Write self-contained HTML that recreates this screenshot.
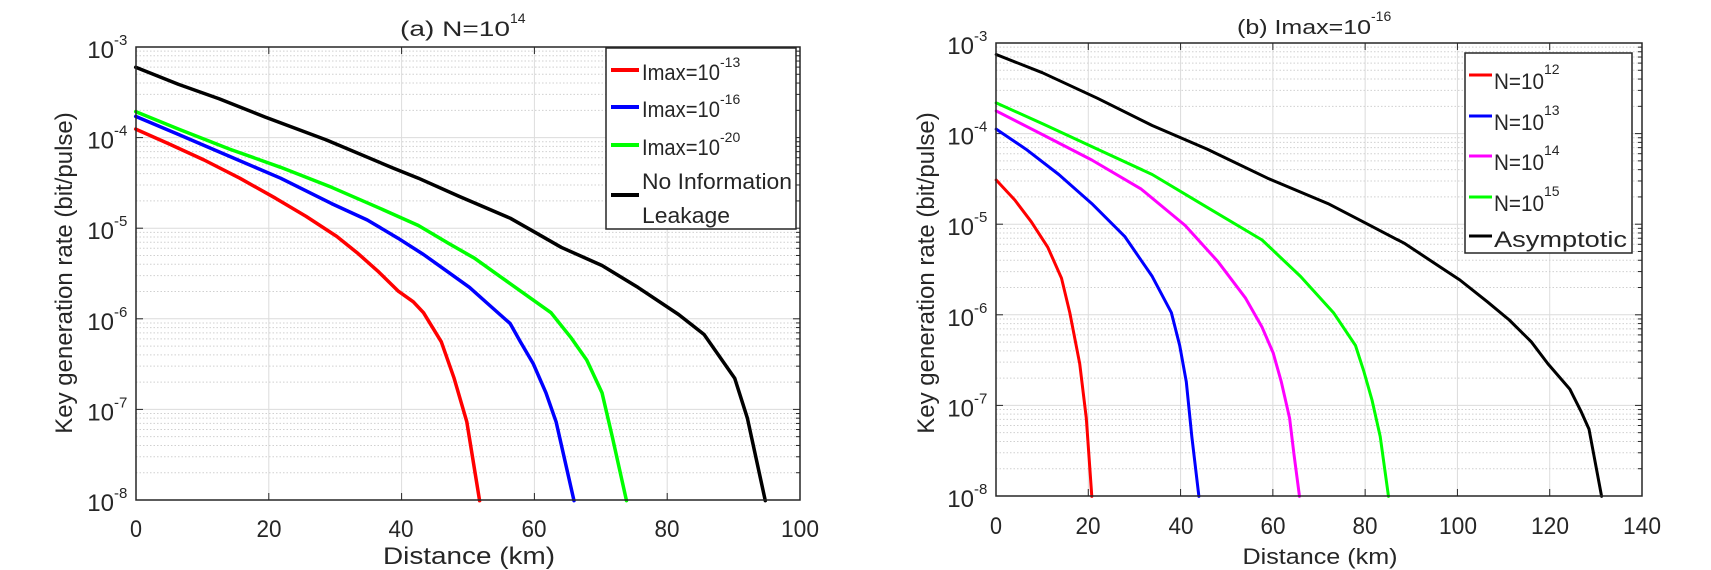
<!DOCTYPE html>
<html><head><meta charset="utf-8"><style>
body{margin:0;background:#fff;width:1711px;height:570px;overflow:hidden}
svg{position:absolute;left:0;top:0}
text{font-family:"Liberation Sans Narrow","Liberation Sans",Arial,sans-serif;fill:#262626}
.w{font-family:"Liberation Sans",Arial,sans-serif}
.t{font-size:22px}
.s{font-size:14px}
.k{font-size:24px}
</style></head><body>
<svg id="g" width="1711" height="570" viewBox="0 0 1711 570">
<g id="grid"></g>
<g id="curves" fill="none" stroke-width="3.5" stroke-linejoin="round" stroke-linecap="round"></g>
<rect x="136" y="47" width="664" height="453" fill="none" stroke="#262626" stroke-width="1.5"/>
<rect x="996" y="43" width="646" height="453" fill="none" stroke="#262626" stroke-width="1.5"/>
<rect x="606" y="48" width="190" height="181" fill="#fff" stroke="#262626" stroke-width="1.5"/>
<line x1="611" y1="70" x2="639" y2="70" stroke="#ff0000" stroke-width="4"/>
<line x1="611" y1="107" x2="639" y2="107" stroke="#0000ff" stroke-width="4"/>
<line x1="611" y1="145" x2="639" y2="145" stroke="#00ff00" stroke-width="4"/>
<line x1="611" y1="195" x2="639" y2="195" stroke="#000" stroke-width="4"/>
<text class="t" x="642" y="80" textLength="78" lengthAdjust="spacingAndGlyphs">Imax=10</text><text class="s" x="720" y="67">-13</text>
<text class="t" x="642" y="117" textLength="78" lengthAdjust="spacingAndGlyphs">Imax=10</text><text class="s" x="720" y="104">-16</text>
<text class="t" x="642" y="155" textLength="78" lengthAdjust="spacingAndGlyphs">Imax=10</text><text class="s" x="720" y="142">-20</text>
<text class="t" x="642" y="189" textLength="150" lengthAdjust="spacingAndGlyphs">No Information</text>
<text class="t" x="642" y="223" textLength="88" lengthAdjust="spacingAndGlyphs">Leakage</text>

<rect x="1465" y="53" width="167" height="200" fill="#fff" stroke="#262626" stroke-width="1.5"/>
<line x1="1469" y1="75" x2="1492" y2="75" stroke="#ff0000" stroke-width="3"/>
<line x1="1469" y1="116" x2="1492" y2="116" stroke="#0000ff" stroke-width="3"/>
<line x1="1469" y1="156" x2="1492" y2="156" stroke="#ff00ff" stroke-width="3"/>
<line x1="1469" y1="197" x2="1492" y2="197" stroke="#00ff00" stroke-width="3"/>
<line x1="1469" y1="236" x2="1492" y2="236" stroke="#000" stroke-width="3"/>
<text class="t" x="1494" y="89" textLength="50" lengthAdjust="spacingAndGlyphs">N=10</text><text class="s" x="1544" y="74">12</text>
<text class="t" x="1494" y="130" textLength="50" lengthAdjust="spacingAndGlyphs">N=10</text><text class="s" x="1544" y="115">13</text>
<text class="t" x="1494" y="170" textLength="50" lengthAdjust="spacingAndGlyphs">N=10</text><text class="s" x="1544" y="155">14</text>
<text class="t" x="1494" y="211" textLength="50" lengthAdjust="spacingAndGlyphs">N=10</text><text class="s" x="1544" y="196">15</text>
<text class="t" x="1494" y="247" textLength="133" lengthAdjust="spacingAndGlyphs">Asymptotic</text>

<text x="400" y="36" style="font-size:21px" textLength="110" lengthAdjust="spacingAndGlyphs">(a) N=10</text><text x="510" y="23" style="font-size:14px">14</text>
<text x="1237" y="34" style="font-size:20px" textLength="134" lengthAdjust="spacingAndGlyphs">(b) Imax=10</text><text x="1371" y="21" style="font-size:14px">-16</text>

<text class="w" transform="translate(72,273) rotate(-90)" text-anchor="middle" style="font-size:24px">Key generation rate (bit/pulse)</text>
<text class="w" transform="translate(934,273) rotate(-90)" text-anchor="middle" style="font-size:24px">Key generation rate (bit/pulse)</text>
<text x="469" y="564" text-anchor="middle" style="font-size:24px" textLength="172" lengthAdjust="spacingAndGlyphs">Distance (km)</text>
<text x="1320" y="564" text-anchor="middle" style="font-size:22px" textLength="155" lengthAdjust="spacingAndGlyphs">Distance (km)</text>

<g class="k" text-anchor="middle">
<text x="136" y="537" textLength="12" lengthAdjust="spacingAndGlyphs">0</text><text x="269" y="537" textLength="25" lengthAdjust="spacingAndGlyphs">20</text><text x="401" y="537" textLength="25" lengthAdjust="spacingAndGlyphs">40</text><text x="534" y="537" textLength="25" lengthAdjust="spacingAndGlyphs">60</text><text x="667" y="537" textLength="25" lengthAdjust="spacingAndGlyphs">80</text><text x="800" y="537" textLength="38" lengthAdjust="spacingAndGlyphs">100</text>
</g>
<g class="k" text-anchor="middle">
<text x="996" y="534" textLength="12" lengthAdjust="spacingAndGlyphs">0</text><text x="1088" y="534" textLength="25" lengthAdjust="spacingAndGlyphs">20</text><text x="1181" y="534" textLength="25" lengthAdjust="spacingAndGlyphs">40</text><text x="1273" y="534" textLength="25" lengthAdjust="spacingAndGlyphs">60</text><text x="1365" y="534" textLength="25" lengthAdjust="spacingAndGlyphs">80</text><text x="1458" y="534" textLength="38" lengthAdjust="spacingAndGlyphs">100</text><text x="1550" y="534" textLength="38" lengthAdjust="spacingAndGlyphs">120</text><text x="1642" y="534" textLength="38" lengthAdjust="spacingAndGlyphs">140</text>
</g>
<g id="yt"></g>
</svg>
<script>
var NS="http://www.w3.org/2000/svg";
function el(p,t,a){var e=document.createElementNS(NS,t);for(var k in a)e.setAttribute(k,a[k]);p.appendChild(e);return e;}
var grid=document.getElementById('grid'),cur=document.getElementById('curves');
function axes(x0,x1,y0,y1,nx){
  for(var i=1;i<nx;i++){var x=x0+(x1-x0)*i/nx;el(grid,'line',{x1:x,x2:x,y1:y0,y2:y1,stroke:'#dcdcdc','stroke-width':1});}
  var dec=(y1-y0)/5;
  for(var d=0;d<5;d++){
    var yb=y1-d*dec;
    if(d>0)el(grid,'line',{x1:x0,x2:x1,y1:yb,y2:yb,stroke:'#dcdcdc','stroke-width':1});
    for(var m=2;m<10;m++){var y=yb-Math.log10(m)*dec;
      el(grid,'line',{x1:x0,x2:x1,y1:y,y2:y,stroke:'#d0d0d0','stroke-width':1,'stroke-dasharray':'1.5,2'});
      el(grid,'line',{x1:x1-4,x2:x1,y1:y,y2:y,stroke:'#262626','stroke-width':1});}
    if(d>0){el(grid,'line',{x1:x1-7,x2:x1,y1:yb,y2:yb,stroke:'#262626','stroke-width':1});el(grid,'line',{x1:x0,x2:x0+7,y1:yb,y2:yb,stroke:'#262626','stroke-width':1});}
  }
  for(var i=1;i<nx;i++){var x=x0+(x1-x0)*i/nx;el(grid,'line',{x1:x,x2:x,y1:y0,y2:y0+7,stroke:'#262626','stroke-width':1});el(grid,'line',{x1:x,x2:x,y1:y1,y2:y1-7,stroke:'#262626','stroke-width':1});}
}
axes(136,800,47,500,5);axes(996,1642,43,496,7);
var yt=document.getElementById('yt');
var ex=['-3','-4','-5','-6','-7','-8'];
function yl(xr,y0,y1){for(var i=0;i<6;i++){var y=y0+(y1-y0)*i/5;
 var t=el(yt,'text',{x:xr-22,y:y+11,'text-anchor':'end','style':'font-size:24px'});t.textContent='10';
 var s=el(yt,'text',{x:xr-22,y:y-2,'style':'font-size:15px'});s.textContent=ex[i];}}
yl(136,47,500);yl(996,43,496);
function line(pts,sx,ox,sy,col,w){var d=pts.map(function(p,i){return (i?'L':'M')+(p[0]/sx+ox).toFixed(1)+' '+(p[1]/sy).toFixed(1);}).join('');
 el(cur,'path',{d:d,stroke:col,'stroke-width':w});}
var L=[[[266,185],[350,232],[430,272],[520,322],[640,385],[770,462],[820,490],[900,540],[1000,600],[1050,640],[1100,680],[1180,730],[1250,790],[1330,865],[1380,920],[1440,1040],[1465,1150],[1500,1377]],'#000'],
R=[[[266,355],[330,395],[400,440],[470,490],[540,545],[600,595],[660,650],[700,695],[740,745],[780,800],[810,830],[830,860],[865,940],[890,1040],[915,1160],[940,1377]],'#ff0000'],
B=[[[266,320],[350,370],[450,430],[550,490],[650,560],[720,605],[780,655],[830,700],[880,750],[920,790],[960,840],[1000,890],[1020,940],[1045,1000],[1070,1080],[1090,1160],[1125,1377]],'#0000ff'],
G=[[[266,307],[350,355],[450,410],[550,460],[650,515],[740,570],[820,620],[880,670],[930,710],[980,760],[1040,820],[1080,860],[1120,930],[1150,990],[1180,1080],[1200,1200],[1228,1377]],'#00ff00'];
[R,B,G,L].forEach(function(c){line(c[0],1.96,0,2.75,c[1],3.5);});
var rb=[[[266,150],[350,200],[450,270],[550,345],[650,410],[760,490],[870,560],[940,615],[1010,670],[1070,730],[1110,770],[1160,830],[1200,880],[1240,940],[1270,1000],[1310,1070],[1330,1130],[1345,1180],[1368,1365]],'#000'],
rr=[[[266,495],[300,550],[330,610],[360,680],[385,765],[400,860],[418,1000],[430,1150],[440,1365]],'#ff0000'],
rbl=[[[266,355],[320,410],[380,480],[440,560],[500,650],[550,760],[585,860],[600,950],[612,1050],[622,1200],[635,1365]],'#0000ff'],
rm=[[[266,305],[350,370],[440,440],[530,520],[610,620],[670,720],[720,820],[750,900],[770,970],[785,1050],[800,1150],[808,1250],[818,1365]],'#ff00ff'],
rg=[[[266,283],[350,340],[450,410],[550,480],[650,570],[750,660],[820,760],[880,860],[920,950],[935,1020],[950,1100],[965,1200],[980,1365]],'#00ff00'];
[rr,rbl,rm,rg,rb].forEach(function(c){line(c[0],1.82,850,2.75,c[1],3);});
</script>
</body></html>
